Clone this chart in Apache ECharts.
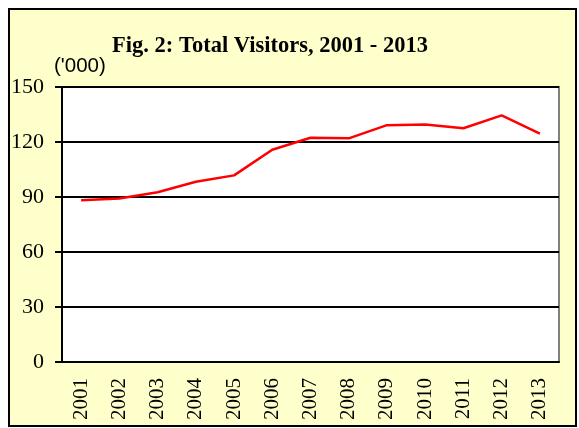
<!DOCTYPE html>
<html lang="en">
<head>
    <meta charset="UTF-8">
    <title>Total Visitors</title>
    <style>
        html, body { margin: 0; padding: 0; background: #ffffff; }
        #frame {
            position: absolute;
            left: 8px; top: 8px;
            width: 565px; height: 415px;
            background: #ffffcc;
            border: 2px solid #000;
        }
        #lineChart {
            position: absolute;
            left: 0; top: 0;
            width: 579px; height: 428px;
        }
    </style>
</head>
<body>
<div id="frame"></div>
<div id="lineChart"></div>
<script src="https://cdn.jsdelivr.net/npm/echarts@6/dist/echarts.min.js"></script>
<script type="text/javascript">
    var years = ['2001', '2002', '2003', '2004', '2005', '2006', '2007',
        '2008', '2009', '2010', '2011', '2012', '2013'];
    var visitors = [88.2, 89.2, 92.6, 98.3, 101.8, 115.8, 122.3,
        122.0, 129.2, 129.5, 127.5, 134.5, 124.6];
    var yTicks = [0, 30, 60, 90, 120, 150];

    var serif = '"Liberation Serif", "DejaVu Serif", serif';
    var myChart = echarts.init(document.getElementById('lineChart'));
    var option = {
        animation: false,
        title: [{
            text: 'Fig. 2: Total Visitors, 2001 - 2013',
            left: 265,
            top: 30,
            textAlign: 'center',
            textStyle: {
                fontFamily: serif,
                fontSize: 22.5,
                fontWeight: 'bold',
                color: '#000'
            }
        }, {
            text: "('000)",
            left: 49,
            top: 51,
            textStyle: {
                fontFamily: '"Liberation Sans", Arial, sans-serif',
                fontSize: 20.5,
                fontWeight: 'normal',
                color: '#000'
            }
        }],
        grid: {
            left: 62,
            right: 20,
            top: 87,
            bottom: 66,
            show: true,
            backgroundColor: '#ffffff',
            borderColor: '#808080',
            borderWidth: 2
        },
        xAxis: {
            type: 'category',
            data: years,
            boundaryGap: true,
            axisLine: { lineStyle: { color: '#000', width: 2 } },
            axisTick: { length: 8, lineStyle: { color: '#000', width: 2 } },
            axisLabel: {
                rotate: 90,
                interval: 0,
                margin: 16,
                fontFamily: serif,
                fontSize: 21,
                color: '#000'
            },
            splitLine: { show: false }
        },
        yAxis: {
            type: 'value',
            min: yTicks[0],
            max: yTicks[yTicks.length - 1],
            interval: 30,
            axisLine: { show: true, lineStyle: { color: '#000', width: 2 } },
            axisTick: { show: true, length: 7, lineStyle: { color: '#000', width: 2 } },
            axisLabel: {
                margin: 18,
                fontFamily: serif,
                fontSize: 22,
                color: '#000'
            },
            splitLine: { lineStyle: { color: '#000', width: 2 } }
        },
        series: [{
            name: 'Total Visitors',
            type: 'line',
            data: visitors,
            showSymbol: false,
            lineStyle: { color: '#ff0000', width: 2.5 }
        }]
    };
    myChart.setOption(option);
</script>
</body>
</html>
